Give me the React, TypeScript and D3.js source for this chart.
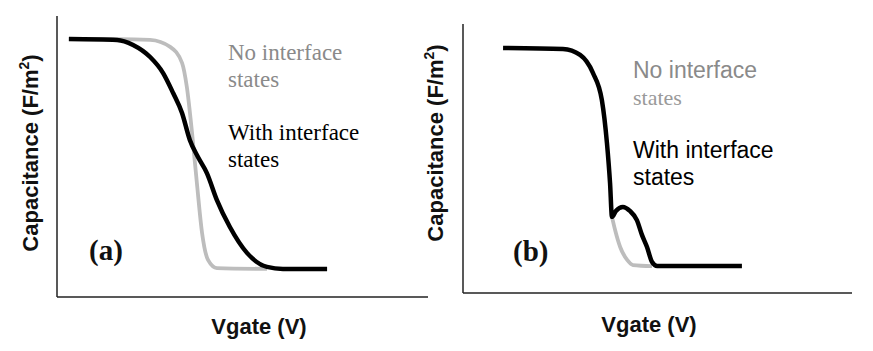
import * as d3 from 'd3';

// Panel (a): x in arbitrary gate-voltage units, y in capacitance units (0-100)
const aNoStatesX = [3.2, 16.2, 25.1, 30.5, 33.7, 35.0, 36.4, 37.7, 39.1, 40.7, 43.1, 56.6];
const aNoStatesY = [91.8, 91.8, 91.5, 89.0, 83.3, 74.7, 58.4, 40.6, 22.8, 13.2, 10.3, 10.0];
const aWithStatesX = [3.2, 16.2, 20.5, 25.1, 28.6, 31.3, 33.7, 35.8, 38.0, 40.4, 43.1, 46.6, 51.2, 56.6, 60.9, 72.8];
const aWithStatesY = [91.8, 91.5, 89.7, 85.4, 79.7, 72.6, 65.5, 55.9, 49.8, 44.1, 34.5, 24.9, 15.7, 10.7, 10.0, 10.0];

// Panel (b)
const bNoStatesX = [38.3, 39.1, 40.4, 42.2, 43.7, 48.6];
const bNoStatesY = [28.3, 23.4, 17.1, 12.3, 10.4, 10.0];
const bWithStatesX = [10.3, 25.7, 30.1, 33.4, 35.7, 37.0, 37.8, 38.3, 39.3, 41.1, 42.9, 44.7, 46.0, 47.3, 48.6, 49.9, 71.7];
const bWithStatesY = [91.1, 90.7, 88.5, 81.8, 71.7, 55.8, 40.9, 28.3, 30.5, 32.0, 30.5, 27.1, 21.6, 17.1, 11.5, 10.0, 10.0];

const SANS = '"Liberation Sans", Arial, sans-serif';
const SERIF = '"Liberation Serif", "Times New Roman", serif';

const zip = (xs: number[], ys: number[]) => xs.map((x, i) => [x, ys[i]] as [number, number]);

interface PanelProps {
  left: number;
  right: number;
  top: number;
  bottom: number;
  noStates: [number, number][];
  withStates: [number, number][];
  yLabelPos: [number, number];
  xLabelPos: [number, number];
  tag: string;
  tagPos: [number, number];
  children?: any;
}

function Panel({ left, right, top, bottom, noStates, withStates, yLabelPos, xLabelPos, tag, tagPos, children }: PanelProps) {
  const x = d3.scaleLinear().domain([0, 100]).range([left, right]);
  const y = d3.scaleLinear().domain([0, 100]).range([bottom, top]);
  const line = d3
    .line<[number, number]>()
    .x((d) => x(d[0]))
    .y((d) => y(d[1]))
    .curve(d3.curveMonotoneX);

  return (
    <g>
      {/* axes */}
      <line x1={x(0)} y1={y(100)} x2={x(0)} y2={y(0)} stroke="#222" strokeWidth={1.5} />
      <line x1={x(0)} y1={y(0)} x2={x(100)} y2={y(0)} stroke="#222" strokeWidth={1.5} />

      <path d={line(noStates) ?? ''} fill="none" stroke="#bdbdbd" strokeWidth={3.8} strokeLinejoin="round" />
      <path d={line(withStates) ?? ''} fill="none" stroke="#000" strokeWidth={4.5} strokeLinejoin="round" />

      <text
        transform={`translate(${yLabelPos[0]},${yLabelPos[1]}) rotate(-90)`}
        textAnchor="middle"
        fontFamily={SANS}
        fontWeight="bold"
        fontSize={22}
        fill="#111"
      >
        Capacitance (F/m<tspan fontSize={14} dy={-9}>2</tspan>
        <tspan dy={9}>)</tspan>
      </text>
      <text
        x={xLabelPos[0]}
        y={xLabelPos[1]}
        textAnchor="middle"
        fontFamily={SANS}
        fontWeight="bold"
        fontSize={22}
        fill="#111"
      >
        Vgate (V)
      </text>
      <text x={tagPos[0]} y={tagPos[1]} fontFamily={SERIF} fontWeight="bold" fontSize={29} fill="#111">
        {tag}
      </text>
      {children}
    </g>
  );
}

export default function App() {
  return (
    <svg width={873} height={351} style={{ position: 'absolute', left: 0, top: 0, background: '#fff' }}>
      <Panel
        left={57}
        right={428}
        top={16}
        bottom={297}
        noStates={zip(aNoStatesX, aNoStatesY)}
        withStates={zip(aWithStatesX, aWithStatesY)}
        yLabelPos={[38, 153]}
        xLabelPos={[259, 334]}
        tag="(a)"
        tagPos={[89, 260]}
      >
        <text fontFamily={SERIF} fontSize={23} fill="#8a8a8a">
          <tspan x={228} y={60}>No interface</tspan>
          <tspan x={228} y={87}>states</tspan>
        </text>
        <text fontFamily={SERIF} fontSize={23} fill="#000">
          <tspan x={228} y={140}>With interface</tspan>
          <tspan x={228} y={167}>states</tspan>
        </text>
      </Panel>
      <Panel
        left={463}
        right={852}
        top={24}
        bottom={293}
        noStates={zip(bNoStatesX, bNoStatesY)}
        withStates={zip(bWithStatesX, bWithStatesY)}
        yLabelPos={[443, 143]}
        xLabelPos={[649, 332]}
        tag="(b)"
        tagPos={[513, 261]}
      >
        <text x={633} y={78} fontFamily={SANS} fontSize={23} fill="#8a8a8a">
          No interface
        </text>
        <text x={633} y={105} fontFamily={SERIF} fontSize={22} fill="#9a9a9a">
          states
        </text>
        <text fontFamily={SANS} fontSize={23} fill="#000">
          <tspan x={633} y={158}>With interface</tspan>
          <tspan x={633} y={185}>states</tspan>
        </text>
      </Panel>
    </svg>
  );
}
